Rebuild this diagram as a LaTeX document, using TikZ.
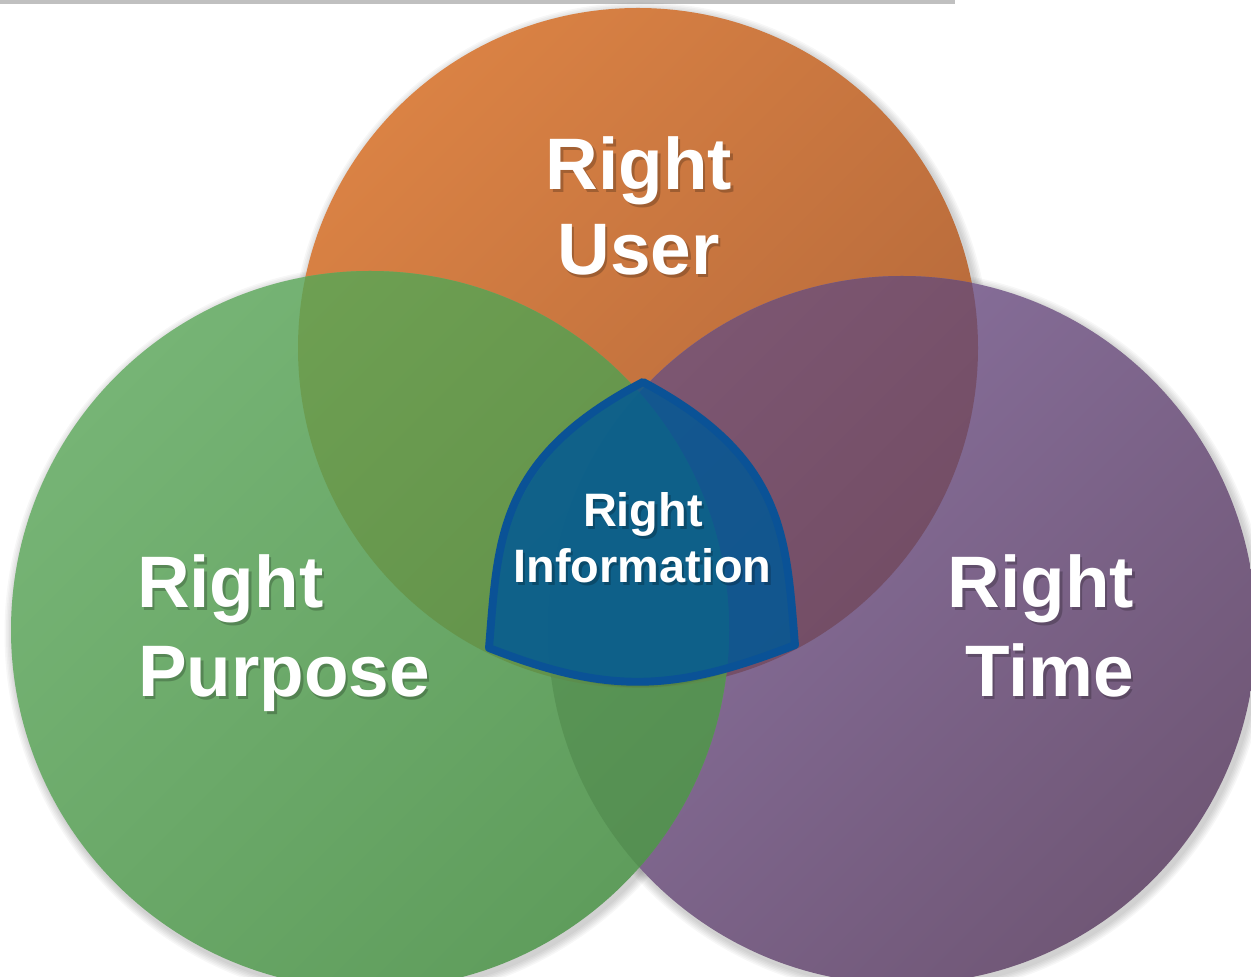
\documentclass[tikz,border=0pt]{standalone}
\usepackage{fontspec}
\setmainfont{Liberation Sans}
\definecolor{barGray}{HTML}{C0C0C0}
\definecolor{orangeL}{HTML}{DA8244}
\definecolor{orangeD}{HTML}{B2673A}
\definecolor{greenL}{HTML}{76B475}
\definecolor{greenD}{HTML}{5F9D5C}
\definecolor{purpleL}{HTML}{8A72A0}
\definecolor{purpleD}{HTML}{705776}
\definecolor{goL}{HTML}{6FA153}
\definecolor{goD}{HTML}{5F8E48}
\definecolor{poL}{HTML}{86607F}
\definecolor{poD}{HTML}{744E66}
\definecolor{gpL}{HTML}{5B9757}
\definecolor{gpD}{HTML}{4E874C}
\definecolor{gpo}{HTML}{5B8D4D}
\definecolor{blueF}{HTML}{005C9D}
\definecolor{blueB}{HTML}{0A5296}
\tikzset{
  bigtxt/.style={font=\fontsize{41.5}{49}\selectfont\bfseries, inner sep=0pt, outer sep=0pt},
  smalltxt/.style={font=\fontsize{26.7}{32}\selectfont\bfseries, inner sep=0pt, outer sep=0pt},
  diag/.style={shading angle=45},
  bluepath/.style={insert path={(ba) .. controls (15.72,10.38) and (15.72,8.78) .. (bc)
      .. controls (13.50,5.70) and (12.18,5.64) .. (bb)
      .. controls (9.96,8.78) and (9.96,10.38) .. (ba) -- cycle}},
}
\newcommand\shtext[5]{%
  \node[#2, text=black, text opacity=0.22, anchor=#3, xshift=0.05cm, yshift=-0.05cm] at (#4) {#5};%
  \node[#2, text=white, anchor=#3] (#1) at (#4) {#5};}
\begin{document}
\begin{tikzpicture}
\clip (0,0) rectangle (25.02,19.54);
\fill[white] (0,0) rectangle (25.02,19.54);
\fill[barGray] (0,19.46) rectangle (19.1,19.54);
\coordinate (co) at (12.76,12.58);
\coordinate (cg) at (7.40,6.94);
\coordinate (cp) at (18.04,6.94);
% soft shadows
\foreach \c/\r in {co/6.80, cp/7.08, cg/7.18}{
  \foreach \k in {1,...,6}{
    \fill[black, opacity=0.03] ([xshift=0.05cm,yshift=-0.07cm]\c) circle[radius={\r+0.03*\k}];}}
% circles
\shade[top color=orangeL, bottom color=orangeD, diag] (co) circle[radius=6.80];
\shade[top color=purpleL, bottom color=purpleD, diag] (cp) circle[radius=7.08];
\shade[top color=greenL, bottom color=greenD, diag] (cg) circle[radius=7.18];
% overlaps
\begin{scope}
  \clip (cp) circle[radius=7.08];
  \shade[top color=poL, bottom color=poD, diag] (co) circle[radius=6.80];
\end{scope}
\begin{scope}
  \clip (cg) circle[radius=7.18];
  \shade[top color=goL, bottom color=goD, diag] (co) circle[radius=6.80];
\end{scope}
\begin{scope}
  \clip (cg) circle[radius=7.18];
  \shade[top color=gpL, bottom color=gpD, diag] (cp) circle[radius=7.08];
\end{scope}
\begin{scope}
  \clip (cg) circle[radius=7.18];
  \clip (cp) circle[radius=7.08];
  \fill[gpo] (co) circle[radius=6.80];
\end{scope}
% centre shape
\coordinate (ba) at (12.86,11.90);
\coordinate (bb) at (9.78,6.58);
\coordinate (bc) at (15.90,6.64);
\foreach \k in {1,2,3}{
  \fill[black, opacity=0.07, yshift=-0.05*\k cm, xshift=0.02*\k cm, bluepath];}
\fill[blueF, fill opacity=0.8, bluepath];
\draw[blueB, line width=4.5pt, line join=round, bluepath];
% texts
\shtext{u1}{bigtxt}{base}{12.78,15.74}{Right}
\shtext{u2}{bigtxt}{base}{12.77,14.04}{User}
\shtext{p1}{bigtxt}{base west}{2.74,7.38}{Right}
\shtext{p2}{bigtxt}{base west}{2.76,5.60}{Purpose}
\shtext{t1}{bigtxt}{base east}{22.68,7.38}{Right}
\shtext{t2}{bigtxt}{base east}{22.68,5.60}{Time}
\shtext{i1}{smalltxt}{base}{12.86,9.00}{Right}
\shtext{i2}{smalltxt}{base}{12.85,7.88}{Information}
\end{tikzpicture}
\end{document}
